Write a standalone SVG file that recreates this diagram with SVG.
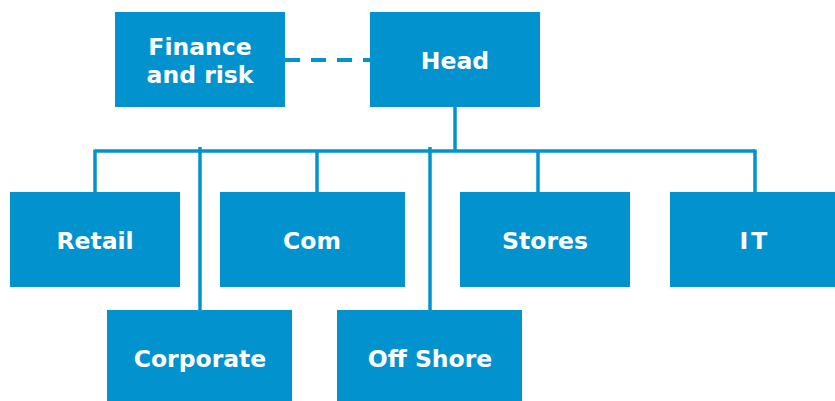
<svg xmlns="http://www.w3.org/2000/svg" width="835" height="401" viewBox="0 0 835 401">
  <style>
    .box { fill: #0293CF; }
    .lbl { fill: #FFFFFF; font-family: "DejaVu Sans", Verdana, sans-serif; font-weight: bold; font-size: 23.5px; text-anchor: middle; }
    .wire { stroke: #0293CF; stroke-width: 3.5; fill: none; }
    .dash { stroke: #0293CF; stroke-width: 4; fill: none; stroke-dasharray: 15 11; }
  </style>
  <rect width="835" height="401" fill="#FFFFFF"/>

  <g id="connectors">
    <line class="dash" x1="285" y1="60" x2="370" y2="60"/>
    <line class="wire" x1="455" y1="107" x2="455" y2="151"/>
    <line class="wire" x1="95" y1="151" x2="755" y2="151"/>
    <line class="wire" x1="95" y1="149.5" x2="95" y2="192"/>
    <line class="wire" x1="317" y1="151" x2="317" y2="192"/>
    <line class="wire" x1="538" y1="151" x2="538" y2="192"/>
    <line class="wire" x1="755" y1="149.5" x2="755" y2="192"/>
    <line class="wire" x1="200" y1="147" x2="200" y2="310"/>
    <line class="wire" x1="430" y1="147" x2="430" y2="310"/>
  </g>

  <g id="finance">
    <rect class="box" x="115" y="12" width="170" height="95"/>
    <text class="lbl" x="200" y="55">Finance</text>
    <text class="lbl" x="200" y="83">and risk</text>
  </g>
  <g id="head">
    <rect class="box" x="370" y="12" width="170" height="95"/>
    <text class="lbl" x="455" y="69">Head</text>
  </g>
  <g id="retail">
    <rect class="box" x="10" y="192" width="170" height="95"/>
    <text class="lbl" x="95" y="249">Retail</text>
  </g>
  <g id="com">
    <rect class="box" x="220" y="192" width="185" height="95"/>
    <text class="lbl" x="312" y="249">Com</text>
  </g>
  <g id="stores">
    <rect class="box" x="460" y="192" width="170" height="95"/>
    <text class="lbl" x="545" y="249">Stores</text>
  </g>
  <g id="it">
    <rect class="box" x="670" y="192" width="165" height="95"/>
    <text class="lbl" x="755" y="249" letter-spacing="3">IT</text>
  </g>
  <g id="corporate">
    <rect class="box" x="107" y="310" width="185" height="91"/>
    <text class="lbl" x="200" y="367">Corporate</text>
  </g>
  <g id="offshore">
    <rect class="box" x="337" y="310" width="185" height="91"/>
    <text class="lbl" x="430" y="367">Off Shore</text>
  </g>
</svg>
